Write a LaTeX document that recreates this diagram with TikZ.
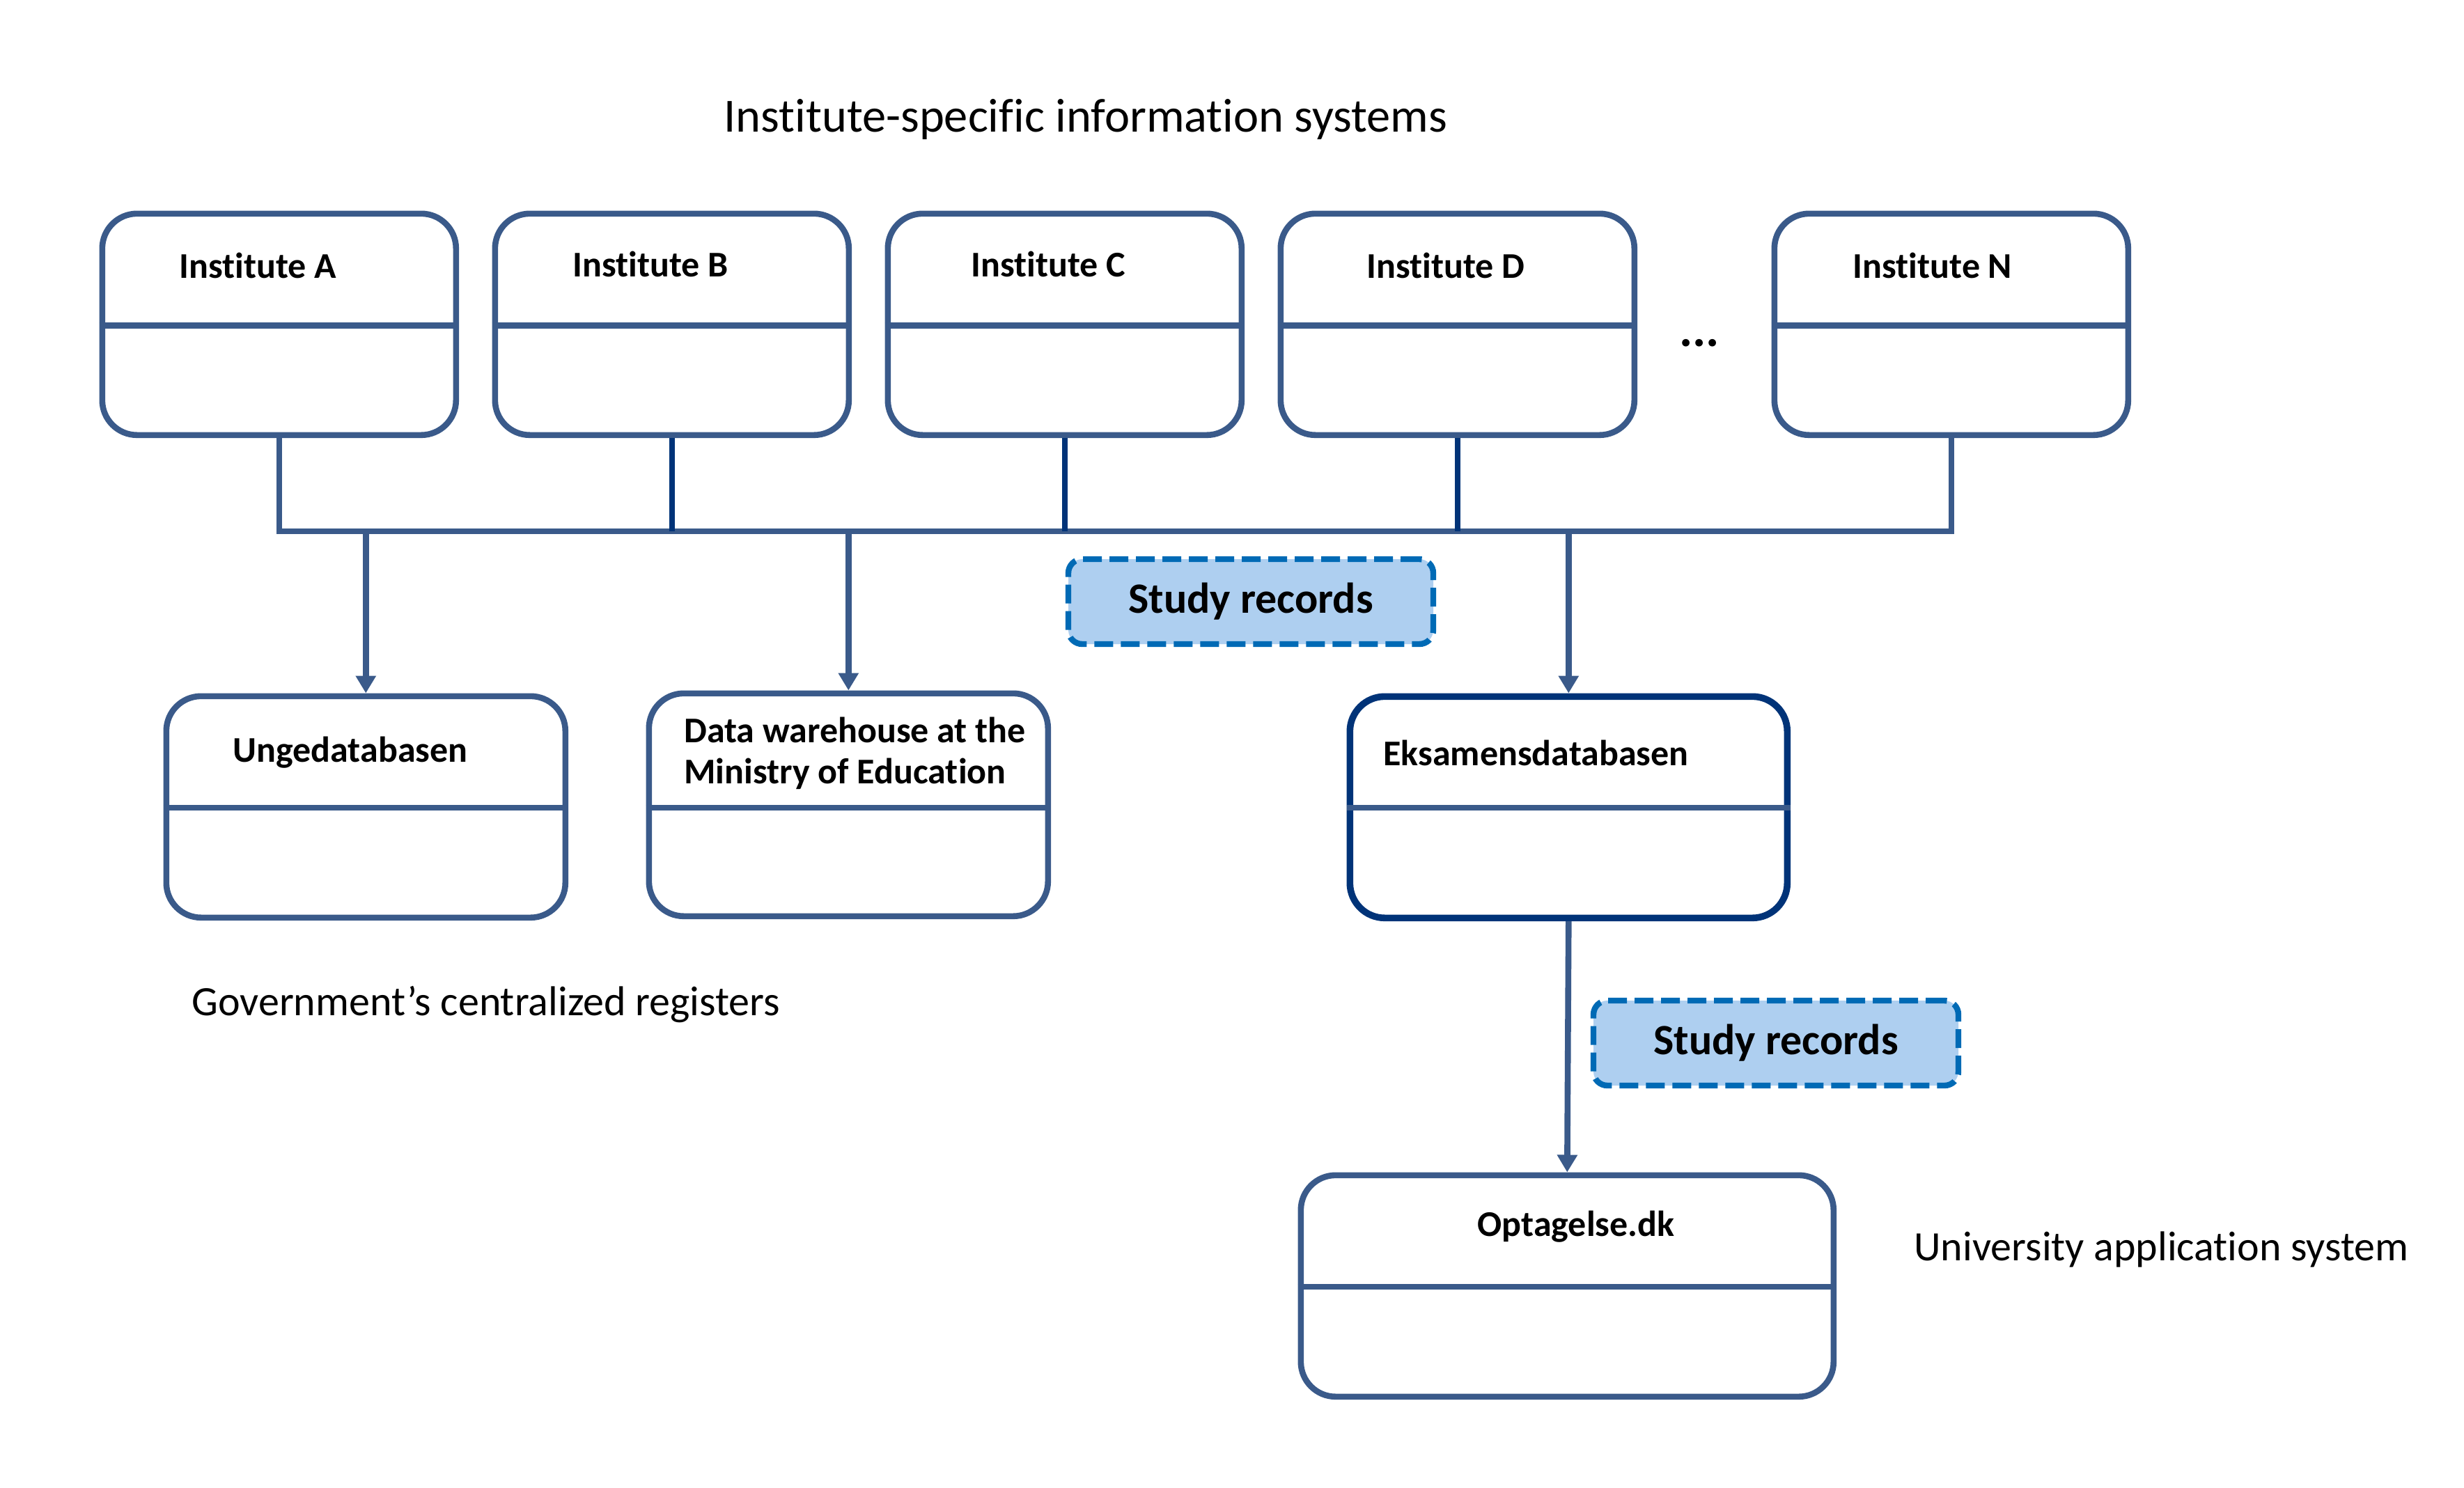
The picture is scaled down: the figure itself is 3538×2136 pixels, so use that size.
\documentclass[tikz,border=0pt]{standalone}
\usepackage{fontspec}
\setmainfont[Ligatures=NoCommon]{Carlito}
\usetikzlibrary{arrows.meta}
\definecolor{boxblue}{RGB}{58,90,138}
\definecolor{navyblue}{RGB}{0,51,120}
\definecolor{recfill}{RGB}{174,207,240}
\definecolor{recline}{RGB}{0,106,181}
\begin{document}
\begin{tikzpicture}[x=0.5pt,y=-0.5pt,
  sysbox/.style={draw=boxblue, line width=4.3pt, rounded corners=25pt, fill=white,
    inner sep=0pt, anchor=north west, minimum height=159pt, xshift=-2.25pt, yshift=2.25pt},
  divider/.style={draw=boxblue, line width=4.3pt},
  conn/.style={draw=boxblue, line width=4.3pt},
  connd/.style={draw=navyblue, line width=4.3pt},
  arr/.style={draw=boxblue, line width=4.3pt, -{Triangle[length=12.5pt,width=14pt]}},
  boxtitle/.style={font=\fontsize{26}{30}\selectfont\bfseries, inner sep=0pt},
  plainlabel/.style={font=\fontsize{30}{36}\selectfont, inner sep=0pt},
  records/.style={draw=recline, fill=recfill, line width=4.2pt, dash pattern=on 13.5pt off 5.5pt,
    rounded corners=10pt, minimum width=262pt, minimum height=61pt, inner sep=0pt,
    font=\fontsize{31}{37}\selectfont\bfseries}
]
\useasboundingbox (0,0) rectangle (3538,2136);

% title
\node[plainlabel, font=\fontsize{34.2}{40}\selectfont] (toptitle) at (1559,171) {Institute-specific information systems};

% institute boxes
\node[sysbox, minimum width=254pt] (A) at (147,307) {};
\node[sysbox, minimum width=254pt] (B) at (711,307) {};
\node[sysbox, minimum width=254pt] (C) at (1275,307) {};
\node[sysbox, minimum width=254pt] (D) at (1839,307) {};
\node[sysbox, minimum width=254pt] (N) at (2548,307) {};
\foreach \b in {A,B,C,D,N}{
  \draw[divider] ([yshift=-82.5pt]\b.north west) -- ([yshift=-82.5pt]\b.north east);
}
\node[boxtitle] (At) at (370,381) {Institute A};
\node[boxtitle] (Bt) at (934,379) {Institute B};
\node[boxtitle] (Ct) at (1505,379) {Institute C};
\node[boxtitle] (Dt) at (2076,381) {Institute D};
\node[boxtitle] (Nt) at (2775,381) {Institute N};
\node[boxtitle, font=\fontsize{36}{40}\selectfont\bfseries, anchor=base] (dots) at (2440,497) {...};

% bus
\coordinate (busL) at (402,763);
\draw[conn] (A.south) |- (N.south |- busL) -- (N.south);
\draw[connd] (B.south) -- (B.south |- busL);
\draw[connd] (C.south) -- (C.south |- busL);
\draw[connd] (D.south) -- (D.south |- busL);

% registers
\node[sysbox, minimum width=286.5pt] (U) at (239,1000) {};
\node[sysbox, minimum width=286.5pt, minimum height=160pt] (W) at (932,996) {};
\node[sysbox, minimum width=314pt, draw=navyblue, line width=4.8pt] (E) at (1938,1000) {};
\draw[divider] (U.west |- 0,1160) -- (U.east |- 0,1160);
\draw[divider] (W.west |- 0,1160) -- (W.east |- 0,1160);
\draw[divider] (E.west |- 0,1160) -- (E.east |- 0,1160);
\node[boxtitle] (Ut) at (503,1081) {Ungedatabasen};
\node[boxtitle, anchor=west, align=left, font=\fontsize{26}{29.5}\selectfont\bfseries] (Wt) at (982,1082) {Data warehouse at the\\Ministry of Education};
\node[boxtitle, anchor=west] (Et) at (1986,1081) {Eksamensdatabasen};

\draw[arr] (U.north |- busL) -- (U.north);
\draw[arr] (W.north |- busL) -- (W.north);
\draw[arr] (E.north |- busL) -- (E.north);

\node[records] (R1) at (1796,864) {Study records};

\node[plainlabel, anchor=west] (gov) at (275,1442) {Government’s centralized registers};

% application system
\node[sysbox, minimum width=382.5pt] (O) at (1868,1688) {};
\draw[divider] (O.west |- 0,1848) -- (O.east |- 0,1848);
\node[boxtitle] (Ot) at (2263,1762) {Optagelse.dk};
\draw[arr] (E.south) -- (O.north);
\node[records] (R2) at (2550,1498) {Study records};
\node[plainlabel, anchor=west] (uni) at (2748,1794) {University application system};
\end{tikzpicture}
\end{document}
